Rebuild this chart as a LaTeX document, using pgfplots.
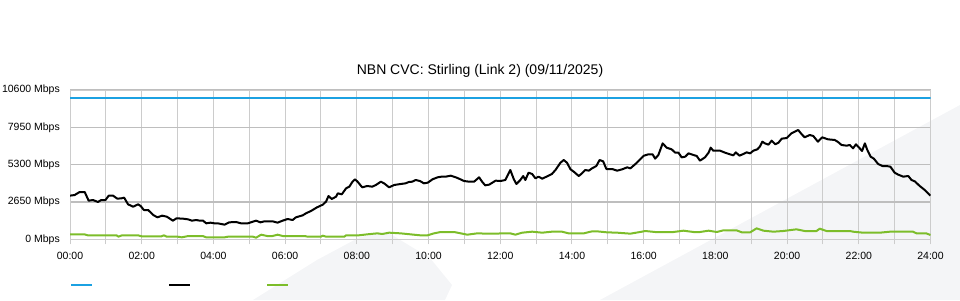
\documentclass[border=0pt]{standalone}
\usepackage{fontspec}
\setmainfont{Liberation Sans}
\usepackage{pgfplots}
\usepackage{pgfplotstable}
\pgfplotsset{compat=1.18}
\definecolor{capblue}{RGB}{27,161,226}
\definecolor{outgreen}{RGB}{124,189,42}
\definecolor{wm}{RGB}{244,245,247}
\definecolor{vgrid}{RGB}{204,204,204}
\definecolor{hgrid}{RGB}{190,190,190}

\pgfplotstableread{
h v
0.00 10000
24.00 10000
}\capacity

\pgfplotstableread{
h v
0.00 3098
0.13 3145
0.27 3358
0.41 3358
0.52 2742
0.64 2790
0.78 2648
0.87 2790
0.99 2790
1.08 3098
1.20 3098
1.32 2885
1.43 2908
1.51 2955
1.62 2482
1.76 2316
1.90 2482
1.97 2364
2.06 2080
2.18 2080
2.32 1725
2.44 1560
2.57 1678
2.70 1607
2.87 1323
2.97 1489
3.15 1465
3.29 1418
3.40 1323
3.52 1370
3.62 1323
3.71 1323
3.80 1134
3.92 1181
4.03 1134
4.12 1134
4.31 1040
4.44 1205
4.63 1229
4.77 1134
4.96 1134
5.10 1252
5.19 1323
5.31 1205
5.42 1276
5.65 1276
5.79 1181
5.93 1323
6.07 1441
6.21 1370
6.30 1560
6.49 1702
6.58 1844
6.72 2009
6.89 2270
7.05 2459
7.14 2672
7.21 3074
7.30 2861
7.42 3027
7.47 3264
7.58 3193
7.70 3619
7.79 3737
7.88 4092
7.95 4258
8.02 4092
8.15 3690
8.29 3784
8.43 3737
8.53 3855
8.67 4092
8.76 3974
8.90 3690
9.04 3855
9.22 3926
9.36 3974
9.45 4068
9.55 4092
9.64 4210
9.76 4139
9.87 3974
9.98 4021
10.11 4258
10.25 4400
10.36 4447
10.48 4447
10.62 4518
10.76 4400
10.85 4305
10.99 4139
11.13 4092
11.27 4092
11.41 4400
11.50 4068
11.58 3832
11.69 3879
11.78 4021
11.87 4163
12.01 4139
12.14 4210
12.28 4920
12.38 4258
12.45 3926
12.56 4210
12.64 4494
12.70 4210
12.79 4731
12.89 4636
12.98 4329
13.07 4447
13.17 4305
13.29 4447
13.44 4636
13.54 4920
13.68 5440
13.77 5630
13.86 5440
13.96 4967
14.05 4801
14.19 4494
14.28 4684
14.37 4920
14.47 4873
14.56 5038
14.68 5204
14.77 5630
14.87 5535
14.96 4991
15.12 4991
15.26 4873
15.40 4967
15.54 5109
15.63 5038
15.77 5346
15.91 5700
16.00 5930
16.13 6032
16.25 6032
16.32 5725
16.41 5985
16.53 6813
16.64 6506
16.78 6387
16.88 6150
16.97 6150
17.06 5819
17.16 5867
17.25 6103
17.39 5985
17.48 5914
17.57 5583
17.71 5819
17.81 6150
17.87 6506
17.94 6293
18.13 6293
18.27 6150
18.41 6032
18.50 5961
18.57 6174
18.67 5938
18.78 6056
18.87 6174
18.97 6103
19.06 6293
19.17 6387
19.24 6577
19.31 6932
19.38 6813
19.48 6719
19.57 7003
19.67 6742
19.76 6861
19.85 7145
19.99 7190
20.12 7524
20.31 7761
20.40 7477
20.49 7240
20.63 7406
20.73 7335
20.86 6932
20.98 7240
21.14 7098
21.33 7051
21.42 6909
21.52 6696
21.66 6648
21.75 6696
21.84 6459
21.92 6743
22.01 6506
22.09 6269
22.17 6813
22.23 6387
22.33 5867
22.42 5725
22.54 5346
22.66 5204
22.77 5204
22.88 5157
23.00 4731
23.10 4589
23.24 4447
23.38 4494
23.47 4210
23.56 4116
23.70 3784
23.84 3500
24.00 3098
}\trafficin

\pgfplotstableread{
h v
0.00 352
0.40 352
0.50 281
1.30 281
1.35 187
1.45 281
1.90 281
2.00 210
2.55 210
2.62 281
2.70 187
3.00 187
3.12 140
3.30 234
3.70 234
3.80 140
4.31 140
4.41 187
5.10 187
5.19 116
5.33 328
5.50 234
5.65 234
5.79 328
5.93 234
6.54 234
6.63 187
7.00 187
7.05 258
7.14 187
7.65 187
7.70 281
8.05 281
8.29 352
8.57 423
8.71 376
8.90 470
9.22 423
9.59 328
9.78 281
9.97 281
10.15 423
10.34 518
10.71 518
10.90 423
11.08 328
11.36 423
11.64 400
12.28 423
12.42 328
12.61 470
12.89 541
13.17 470
13.44 541
13.72 541
13.91 423
14.33 423
14.56 565
14.70 565
14.98 494
15.26 470
15.63 400
15.95 541
16.04 589
16.32 518
16.83 518
17.11 612
17.39 518
17.57 518
17.81 612
18.04 518
18.22 636
18.59 636
18.74 494
18.97 494
19.15 778
19.34 612
19.62 541
19.89 589
20.26 707
20.49 589
20.82 589
20.91 754
21.10 589
21.75 589
21.84 541
22.12 470
22.59 470
22.87 541
23.51 541
23.61 423
23.88 423
24.00 305
}\trafficout

\begin{document}
\begin{tikzpicture}[x=1pt,y=1pt]
\path[use as bounding box] (0,0) rectangle (960,300);
% faint background watermark
\fill[wm] (253,0) -- (317,40) -- (360,63) -- (387,68) -- (430,42) -- (452,15) -- (445,0) -- cycle;
\fill[wm] (600,0) -- (960,195) -- (960,0) -- cycle;
\node[font=\fontsize{14}{16}\selectfont, inner sep=0pt] at (480,229) {NBN CVC: Stirling (Link 2) (09/11/2025)};
\begin{axis}[
  at={(70pt,60.7pt)}, anchor=south west,
  scale only axis, width=860.5pt, height=149.3pt,
  xmin=0, xmax=24, ymin=0, ymax=10600,
  scaled y ticks=false, scaled x ticks=false,
  xtick={0,2,...,24}, minor xtick={1,3,...,23},
  xticklabels={00:00,02:00,04:00,06:00,08:00,10:00,12:00,14:00,16:00,18:00,20:00,22:00,24:00},
  ytick={0,2650,5300,7950,10600},
  yticklabels={0 Mbps,2650 Mbps,5300 Mbps,7950 Mbps,10600 Mbps},
  xmajorgrids, xminorgrids, ymajorgrids,
  major x grid style={draw=vgrid, line width=1pt},
  minor x grid style={draw=vgrid, line width=1pt},
  major y grid style={draw=hgrid, line width=1.6pt},
  axis line style={draw=vgrid, line width=1pt},
  xtick pos=lower, ytick pos=left,
  tick align=outside,
  major tick length=5pt, minor tick length=5pt,
  x tick style={draw=vgrid, line width=1pt},
  minor x tick style={draw=vgrid, line width=1pt},
  y tick style={draw=none},
  tick label style={font=\fontsize{10.5}{12}\selectfont, text=black},
  xticklabel style={anchor=north, inner sep=0pt, yshift=-7.5pt},
  yticklabel style={anchor=east, inner sep=0pt, xshift=-5pt},
  legend columns=3,
  legend style={draw=none, fill=none, at={(rel axis cs:0,0)}, anchor=west, yshift=-45.7pt,
    inner sep=0pt, outer sep=0pt, nodes={inner sep=0pt, outer sep=0pt},
    /tikz/every even column/.append style={column sep=74pt}},
  legend image code/.code={\draw[#1] (0pt,0pt) -- (21pt,0pt);},
]
\addplot[capblue, line width=2pt] table[x=h, y=v] {\capacity};
\addlegendentry{\mbox{}}
\addplot[black, line width=2pt, line join=round] table[x=h, y=v] {\trafficin};
\addlegendentry{\mbox{}}
\addplot[outgreen, line width=2pt, line join=round] table[x=h, y=v] {\trafficout};
\addlegendentry{\mbox{}}
\end{axis}
\end{tikzpicture}
\end{document}
